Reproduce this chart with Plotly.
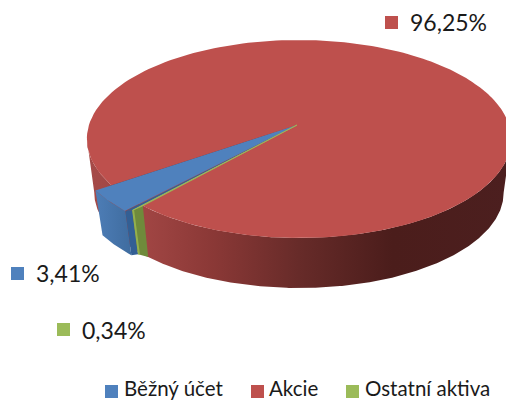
import numpy as np
import plotly.graph_objects as go

# --- data ---
categories = ["Běžný účet", "Akcie", "Ostatní aktiva"]
shares = [3.41, 96.25, 0.34]

# --- style ---
FONT = "Lato"
TXT = "#1a1a1a"
top_colors = ["#4F81BD", "#BE504D", "#9BBB59"]
FIRST_ANGLE = 222.6      # clockwise from 12 o'clock, start of first slice
CX, CY = 297.0, 125.0    # apex of the pie on the canvas
A, B, K, KX = 210.0, 97.0, -0.1414, -0.0094
DROP, SHRINK = 54.0, 0.965
BLUE_R, GREEN_R = 1.08, 1.055


def project(theta, r=1.0, base=False, drop=DROP):
    t = np.radians(np.asarray(theta, dtype=float))
    X, Y = np.sin(t) * r, -np.cos(t) * r
    w = 1 + K * Y + KX * X
    s = SHRINK if base else 1.0
    d = drop if base else 0.0
    return CX + s * A * X / w, CY + d + s * B * Y / w


def arc(a0, a1, r=1.0, base=False, drop=DROP, n=120):
    return project(np.linspace(a0, a1, n), r, base, drop)


def silhouette(base):
    """Part of the rim that faces the viewer: from the left extreme to the right extreme."""
    grid = np.linspace(300, 60, 481)
    x, y = project(grid, 1.0, base)
    i0, i1 = int(np.argmin(x)), int(np.argmax(x))
    return x[i0:i1 + 1], y[i0:i1 + 1]


angles = np.cumsum([0] + [v / sum(shares) * 360 for v in shares]) + FIRST_ANGLE
blue0, blue1 = angles[0], angles[1]
red1 = angles[2]
green0, green1 = angles[2] - 360, angles[3] - 360

fig = go.Figure()


def poly(xs, ys, color=None, **extra):
    kw = dict(x=list(xs) + [xs[0]], y=list(ys) + [ys[0]], mode="lines", fill="toself",
              line=dict(width=0), hoverinfo="skip", showlegend=False)
    if color:
        kw["fillcolor"] = color
    kw.update(extra)
    fig.add_trace(go.Scatter(**kw))


# red wall, with a horizontal gradient
tx, ty = silhouette(False)
bx, by = silhouette(True)
poly(np.r_[tx, bx[::-1]], np.r_[ty, by[::-1]], fillgradient=dict(
    type="horizontal",
    colorscale=[[0, "#A54A48"], [0.14, "#A04543"], [0.3, "#8A3836"], [0.5, "#672B29"],
                [0.72, "#4B1D1B"], [1, "#4C1F1F"]]))

# red top
rx, ry = arc(blue1, red1 + 360, n=400)
poly(np.r_[CX, rx], np.r_[CY, ry], top_colors[1])

# dark inner face of the red slice, seen above the pulled-out blue slice
x0, y0 = project(blue1, 1.0)
x1, y1 = project(blue1 - 1.0, BLUE_R)
poly([CX, x0, x1], [CY, y0, y1], "#7B2E2C")

# blue wall
DB = 47
tx, ty = arc(green1, blue1, BLUE_R)
bx, by = arc(blue1, green1, BLUE_R, base=True, drop=DB)
poly(np.r_[tx, bx], np.r_[ty, by], fillgradient=dict(
    type="horizontal", colorscale=[[0, "#4D7DB6"], [1, "#3F6C9F"]]))

# blue radial face
c0x, c0y = project(green1, BLUE_R)
c1x, c1y = project(green1, BLUE_R, True, DB)
c2x, c2y = project(green1 - 0.9, GREEN_R)
c3x, c3y = project(green1 - 0.9, GREEN_R, True, DB)
poly([c0x, c2x, c3x, c1x], [c0y, c2y, c3y, c1y], "#335F94")

# green wall
g0x, g0y = project(green0, 1.0)
g1x, g1y = project(green0, 1.0, True)
poly([c2x, g0x, g1x, c3x], [c2y, g0y, g1y, c3y], "#6F8A3B")
fig.add_trace(go.Scatter(x=[c2x + 0.8, c3x + 0.8], y=[c2y, c3y], mode="lines",
                         line=dict(color="#93B04D", width=2), hoverinfo="skip", showlegend=False))

# blue and green tops, with the dark blue face between them
tx, ty = arc(green1, blue1, BLUE_R)
poly(np.r_[CX, tx], np.r_[CY, ty], top_colors[0])
poly([CX, c0x, c2x], [CY, c0y, c2y], "#335F94")
fig.add_trace(go.Scatter(x=[CX, g0x, c2x, CX], y=[CY, g0y, c2y, CY], mode="lines", fill="toself",
                         fillcolor=top_colors[2], line=dict(color=top_colors[2], width=0.8),
                         hoverinfo="skip", showlegend=False))

# data labels with their keys
label_text = [f"{v:.2f}".replace(".", ",") + "%" for v in shares]
label_key_x = [17.5, 391.5, 63.5]
label_key_y = [273.5, 22.5, 329.5]
label_text_x = [36, 410, 82]
label_text_y = [276, 25, 333]
legend_key_x = [111.5, 257.5, 352.5]
legend_key_y = 391.5
legend_text_x = [124, 269, 365]
legend_text_y = 391

for i in range(3):
    fig.add_trace(go.Scatter(x=[label_key_x[i]], y=[label_key_y[i]], mode="markers",
                             marker=dict(symbol="square", size=13, color=top_colors[i], line=dict(width=0)),
                             hoverinfo="skip", showlegend=False))
    fig.add_trace(go.Scatter(x=[label_text_x[i]], y=[label_text_y[i]], mode="text", text=[label_text[i]],
                             textposition="middle right", textfont=dict(family=FONT, size=23, color=TXT),
                             hoverinfo="skip", showlegend=False))
    fig.add_trace(go.Scatter(x=[legend_key_x[i]], y=[legend_key_y], mode="markers",
                             marker=dict(symbol="square", size=13, color=top_colors[i], line=dict(width=0)),
                             hoverinfo="skip", showlegend=False))
    fig.add_trace(go.Scatter(x=[legend_text_x[i]], y=[legend_text_y], mode="text", text=[categories[i]],
                             textposition="middle right", textfont=dict(family=FONT, size=20.5, color=TXT),
                             hoverinfo="skip", showlegend=False))

fig.update_layout(
    width=506, height=401, margin=dict(l=0, r=0, t=0, b=0),
    paper_bgcolor="white", plot_bgcolor="white", showlegend=False,
    xaxis=dict(range=[0, 506], visible=False, fixedrange=True),
    yaxis=dict(range=[401, 0], visible=False, fixedrange=True),
)
fig.write_html("out.html", config=dict(displayModeBar=False),
               post_script="document.body.style.margin='0';document.body.style.overflow='hidden';")
